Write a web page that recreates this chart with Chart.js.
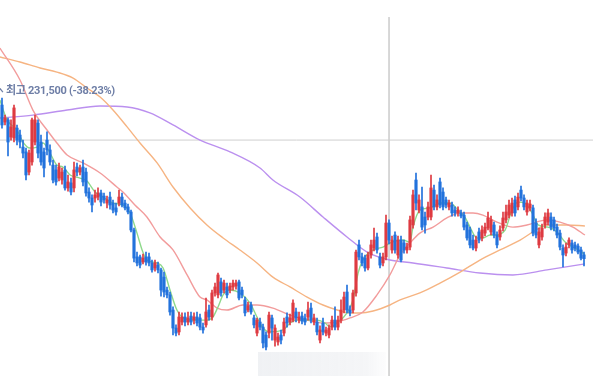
<!DOCTYPE html>
<html lang="ko">
<head>
<meta charset="utf-8">
<title>주가 차트</title>
<script src="https://cdn.jsdelivr.net/npm/chart.js@4.4.1/dist/chart.umd.min.js"></script>
<style>
    html, body { margin: 0; padding: 0; background: #ffffff; }
    #wrap { position: relative; width: 593px; height: 376px; }
</style>
</head>
<body>
<div id="wrap"><canvas id="chart"></canvas></div>
<script>
// Daily candles (won), oldest first
const openPrices = [
    222300, 213500, 214600, 205800, 205300, 210400, 206800, 200600, 198100, 187700,
    192900, 203200, 213000, 203200, 198100, 204200, 199100, 191300, 188800, 184600,
    183600, 188800, 179500, 182100, 179500, 190300, 187700, 190300, 187700, 177400,
    174300, 174300, 174800, 176900, 175300, 171700, 174800, 171700, 169200, 171700,
    174800, 171700, 169700, 167100, 157800, 143900, 143900, 141300, 143900, 143900,
    140800, 138200, 139700, 137200, 133500, 126800, 124300, 116500, 107200, 105200,
    110300, 112900, 110300, 113400, 111300, 112900, 112400, 107700, 108800, 116500,
    112900, 125300, 124300, 131000, 126800, 128400, 126800, 128400, 128900, 131000,
    126800, 121700, 116500, 119100, 112400, 104600, 110300, 107700, 103600, 104600,
    112400, 101000, 100000, 103600, 104600, 112900, 110300, 111300, 115500, 111300,
    113400, 112400, 112900, 117500, 110300, 110300, 101000, 109800, 104600, 103600,
    107700, 111300, 107700, 111300, 116500, 125800, 116500, 116500, 125300, 150100,
    143900, 143300, 138200, 144900, 148500, 154200, 143900, 140800, 143900, 161400,
    147500, 155200, 144900, 152600, 151100, 147500, 149000, 160400, 183600, 168100,
    169700, 164500, 164500, 164500, 178400, 169700, 182600, 177400, 173300, 169700,
    170700, 168100, 166600, 166600, 165500, 160400, 157800, 152600, 148500, 156800,
    153700, 156200, 158800, 156800, 160400, 155200, 154200, 158800, 163000, 165500,
    166600, 173300, 169700, 178400, 174300, 167100, 169200, 169200, 161400, 150100,
    154200, 160400, 161900, 164500, 163000, 159300, 156200, 148500, 145900, 150100,
    151100, 150100, 149500, 147500, 144900
];
const highPrices = [
    225900, 217100, 215600, 214600, 222300, 212000, 209400, 204200, 200100, 199100,
    215600, 217100, 214600, 206800, 200100, 208400, 201700, 193900, 191300, 192400,
    189800, 190800, 186200, 184600, 192900, 192400, 191300, 193900, 189800, 179500,
    175900, 178400, 179500, 178400, 176900, 175300, 177400, 173300, 171700, 178400,
    176900, 173300, 171200, 168100, 158800, 146400, 144900, 145400, 146400, 145900,
    142300, 142300, 141300, 138200, 136100, 128400, 125800, 118100, 108800, 115500,
    115000, 115000, 115500, 115500, 115000, 115500, 114400, 109800, 122700, 119100,
    126800, 130400, 135600, 133000, 132000, 130400, 130400, 132000, 132000, 132000,
    128400, 123200, 120600, 120600, 113900, 112400, 112400, 109300, 105200, 115500,
    113900, 108800, 104600, 106200, 112400, 115000, 114400, 121700, 117500, 115500,
    115500, 114400, 120600, 120100, 114400, 112400, 108300, 112400, 107700, 108800,
    113400, 118100, 113400, 121700, 125800, 129400, 118600, 126800, 147500, 152600,
    145900, 144900, 146400, 152600, 158800, 156200, 145900, 145900, 165500, 163000,
    154700, 156800, 154700, 154700, 152600, 151100, 165000, 178400, 187200, 175900,
    180000, 167100, 172200, 186200, 181000, 175900, 184600, 179500, 174800, 173300,
    172200, 169700, 169700, 168100, 167100, 161900, 159300, 155200, 154700, 158800,
    159900, 161400, 167100, 165000, 161900, 156800, 159900, 167100, 170700, 173300,
    174300, 175300, 176900, 180500, 175900, 173300, 173300, 170700, 163500, 158800,
    160900, 166600, 168600, 166600, 164500, 160900, 157800, 150100, 151100, 153700,
    152600, 151600, 150600, 149000, 146400
];
const lowPrices = [
    210400, 212000, 196000, 204200, 203200, 201700, 200100, 195000, 183600, 186200,
    191300, 201700, 195000, 191300, 185200, 196500, 191300, 182100, 181000, 183100,
    181500, 178400, 177900, 175900, 177400, 185700, 186200, 180500, 175300, 172200,
    167100, 172200, 173300, 170200, 171700, 169200, 168600, 166600, 165500, 170200,
    169700, 168100, 166100, 156800, 141300, 139200, 138200, 140300, 139700, 139200,
    136100, 136600, 135600, 123700, 123200, 122700, 113900, 103600, 103100, 103600,
    108800, 108300, 108800, 108800, 109300, 108300, 106200, 104600, 107700, 111300,
    111300, 123700, 122700, 123700, 125300, 122700, 125300, 126800, 127300, 121700,
    122700, 113400, 115500, 114400, 107200, 103100, 106200, 96900, 95900, 102100,
    101000, 97900, 98400, 99000, 103100, 107700, 108800, 110300, 110300, 109800,
    109300, 108800, 111300, 109800, 108800, 103600, 99500, 103600, 103100, 102100,
    106200, 106200, 106200, 109800, 115000, 115000, 113400, 115000, 123700, 142300,
    139200, 136600, 137200, 143300, 147000, 145900, 138200, 139200, 142300, 150600,
    145900, 145900, 143300, 141300, 145900, 145900, 147500, 158800, 168100, 166600,
    157800, 156200, 163000, 163000, 168100, 168100, 169200, 168100, 169200, 168100,
    165000, 165000, 165000, 164000, 157800, 152600, 148500, 147500, 147000, 151100,
    152100, 154700, 157800, 155200, 153700, 148500, 152600, 157300, 161400, 164000,
    165000, 165000, 168100, 172800, 168100, 165500, 167600, 154700, 153700, 148500,
    152600, 158800, 160400, 157800, 157300, 153700, 147500, 138700, 144400, 148500,
    145900, 147000, 145400, 142300, 139200
];
const closePrices = [
    212000, 215600, 203200, 211000, 220800, 204200, 203200, 197500, 186200, 197500,
    214600, 214600, 197500, 192900, 189800, 199100, 192900, 183600, 182600, 190300,
    187700, 179500, 182600, 177400, 188800, 187700, 189800, 182600, 176900, 174300,
    170700, 175900, 176900, 172200, 173300, 173300, 170700, 168100, 167100, 174800,
    170700, 169200, 167100, 157800, 143300, 140800, 139700, 143300, 141300, 140800,
    137200, 140800, 137200, 126800, 125800, 124300, 115500, 107200, 104600, 112900,
    112900, 110300, 112400, 110300, 112900, 109800, 107700, 106200, 115500, 112900,
    125300, 128400, 134600, 125300, 130400, 124300, 128900, 130400, 130400, 122700,
    124300, 115000, 118600, 115500, 108800, 111300, 107700, 99500, 97400, 113900,
    107200, 107200, 102600, 101000, 110300, 109800, 112400, 120100, 112400, 112900,
    110800, 110300, 116500, 111300, 112400, 105200, 106200, 105200, 106200, 107200,
    111300, 107700, 111300, 116500, 123200, 116500, 115000, 125300, 146400, 143900,
    140800, 138200, 144900, 150100, 152600, 147500, 139700, 143900, 161400, 152600,
    152600, 147500, 152600, 142300, 147500, 149000, 163000, 175900, 171700, 173300,
    159300, 160400, 169700, 179500, 169700, 173300, 170700, 169700, 170700, 171700,
    166600, 166600, 168100, 165000, 159300, 153700, 150100, 148500, 152600, 152600,
    157800, 159300, 164000, 163000, 155200, 150100, 157800, 164000, 167100, 170700,
    171700, 166600, 174800, 174300, 169700, 171700, 171200, 156200, 155200, 156800,
    158800, 164500, 166600, 159300, 158800, 155200, 149000, 144900, 149000, 152600,
    147500, 148500, 146400, 143300, 143000
];

// Moving averages: [day index, price]
const ma5 = [
    [-0.7, 224900], [1.7, 214600], [5, 209400], [7, 203200], [9.3, 200100], [11.7, 200600],
    [13.7, 202700], [16, 197500], [18.3, 191300], [20.3, 190300], [22.7, 186200], [26, 184600],
    [28.3, 183100], [31, 177400], [33.7, 174800], [37, 171700], [40.3, 170700], [42.7, 166600],
    [45, 156200], [46.7, 147500], [48.3, 142300], [51.7, 140800], [53.7, 138200], [56, 126800],
    [58.3, 116500], [60, 112900], [63.7, 111300], [68.3, 111300], [70.3, 112900], [72, 118100],
    [73.7, 124300], [76, 126800], [79.3, 125300], [82.7, 120100], [85, 112900], [87, 107200],
    [89.3, 105200], [93.7, 106200], [96, 109800], [98.3, 111300], [105, 111300], [107.7, 109800],
    [109.3, 107700], [111.7, 109800], [115, 115000], [117, 121700], [118.7, 135600], [120.3, 142300],
    [123.7, 147500], [127, 149000], [130, 151600], [133.7, 152600], [136, 151600], [137, 159300],
    [139.3, 168100], [142.7, 169200], [146, 171700], [149.3, 171700], [152, 168100], [154.3, 164500],
    [156, 159300], [158.3, 153700], [160.3, 153700], [162.7, 155200], [164.3, 155200], [167.7, 157800],
    [170, 168100], [172, 172200], [174.3, 171700], [176.7, 166600], [178.7, 160400], [182, 159300],
    [185, 156800], [187.7, 151600], [190.3, 149000], [193.3, 146400], [194.3, 144900]
];
const ma20 = [
    [-0.7, 251700], [6, 235200], [10.3, 219700], [15, 209400], [18.3, 202700], [21.7, 196500],
    [27, 192400], [32.7, 187200], [38.3, 180000], [40.3, 177400], [44.3, 170700], [48.3, 164500],
    [52.7, 154200], [57, 147500], [61.7, 134600], [66, 123200], [68.3, 121700], [71.7, 117500],
    [75, 116500], [80.3, 119100], [85, 119100], [90.3, 117500], [96, 113900], [101.7, 111300],
    [107, 109800], [111.7, 110300], [116, 112400], [120.3, 115500], [125, 124300], [129.3, 134600],
    [132.7, 144900], [136, 151100], [139.3, 156200], [143.7, 159300], [148.3, 164000], [152.7, 166600],
    [157, 166600], [160.3, 165500], [165, 161900], [170.3, 159300], [175, 160400], [181.7, 163000],
    [186, 161900], [190.3, 159300], [194.3, 155200]
];
const ma60 = [
    [-0.7, 247100], [6, 244500], [12.7, 241400], [18.3, 239300], [23.7, 236200], [28.3, 231100],
    [32.7, 226400], [37, 219700], [41.7, 211000], [46, 202700], [51.7, 192400], [57, 180000],
    [62.7, 169200], [68.3, 160400], [73.7, 153700], [79.3, 147500], [85, 140800], [90.3, 133500],
    [96, 128400], [101.7, 123200], [107, 119100], [111.7, 116500], [116, 115000], [119.3, 115000],
    [123.7, 116000], [129.3, 119100], [132.7, 121700], [139.3, 125300], [146, 130400], [152.7, 136100],
    [159.3, 142300], [166, 147500], [172.7, 152600], [177, 156800], [181.7, 160400], [188.3, 160400],
    [194.3, 159900]
];
const ma120 = [
    [-0.7, 215600], [10.3, 217100], [21.7, 219700], [32.7, 221800], [41.7, 221300], [49.3, 218200],
    [57, 212000], [66, 204200], [76, 198100], [86, 189800], [90.3, 183600], [99.3, 174800],
    [107, 164500], [115, 154200], [121.7, 146400], [129.3, 142300], [137, 140800], [148.3, 138200],
    [159.3, 135600], [170.3, 134600], [181.7, 137200], [194.3, 140300]
];

const periodHigh = 231500;
const highChangePct = -38.23;
const refPrice = 204200;      // gray horizontal reference line
const markerDay = 129;        // vertical marker line
const gridStep = 20000;

const RED = '#de3a41';
const BLUE = '#2272dc';

const days = closePrices.map((_, i) => i);
const candleColors = days.map(i => closePrices[i] >= openPrices[i] ? RED : BLUE);
const toPoints = arr => arr.map(p => ({ x: p[0], y: p[1] }));

function maLine(label, pts, color, order) {
    return {
        type: 'line',
        label: label,
        data: toPoints(pts),
        borderColor: color,
        borderWidth: 1.4,
        pointRadius: 0,
        cubicInterpolationMode: 'monotone',
        order: order
    };
}

// Text label and faded date box
const overlayPlugin = {
    id: 'overlay',
    beforeDatasetsDraw(chart) {
        const ctx = chart.ctx;
        ctx.save();
        const g = ctx.createLinearGradient(258, 0, 386, 0);
        g.addColorStop(0, 'rgba(238,240,243,0.9)');
        g.addColorStop(0.85, 'rgba(243,244,246,0.85)');
        g.addColorStop(1, 'rgba(250,250,251,0.5)');
        ctx.fillStyle = g;
        ctx.fillRect(258, 352, 128, 24);
        ctx.restore();
    },
    afterDatasetsDraw(chart) {
        const { ctx, scales: { x, y } } = chart;
        const px = x.getPixelForValue(1.3);
        const py = y.getPixelForValue(periodHigh) + 4;
        ctx.save();
        ctx.strokeStyle = '#6e7ea6';
        ctx.lineWidth = 1.2;
        ctx.beginPath();
        ctx.moveTo(px - 7, py - 4);
        ctx.lineTo(px - 3, py + 1);
        ctx.stroke();
        ctx.font = '700 11px Roboto, "Noto Sans CJK KR", sans-serif';
        ctx.letterSpacing = '-0.3px';
        ctx.fillStyle = '#6e7ea6';
        ctx.textBaseline = 'middle';
        ctx.fillText('최고 ' + periodHigh.toLocaleString('en-US') + ' (' + highChangePct + '%)', px, py);
        ctx.restore();
    }
};

new Chart(document.getElementById('chart'), {
    type: 'bar',
    data: {
        datasets: [
            {
                label: '몸통',
                data: days.map(i => ({ x: i, y: [openPrices[i], closePrices[i]] })),
                backgroundColor: candleColors,
                barThickness: 2.5,
                minBarLength: 1,
                grouped: false,
                order: 0
            },
            {
                label: '꼬리',
                data: days.map(i => ({ x: i, y: [lowPrices[i], highPrices[i]] })),
                backgroundColor: candleColors,
                barThickness: 1,
                grouped: false,
                order: 1
            },
            maLine('5일', ma5, '#8fd98c', 2),
            maLine('20일', ma20, '#f29c9c', 3),
            maLine('60일', ma60, '#f6b482', 4),
            maLine('120일', ma120, '#bb90ef', 5),
            {
                type: 'line',
                label: '기준가',
                data: [{ x: -1, y: refPrice }, { x: 198, y: refPrice }],
                borderColor: '#cfcfcf',
                borderWidth: 1,
                pointRadius: 0,
                order: 6
            },
            {
                type: 'line',
                label: '구분선',
                data: [{ x: markerDay, y: 267700 }, { x: markerDay, y: 82000 }],
                borderColor: '#d2d2d2',
                borderWidth: 1,
                pointRadius: 0,
                order: 7
            }
        ]
    },
    options: {
        responsive: true,
        maintainAspectRatio: false,
        animation: false,
        devicePixelRatio: 1,
        layout: { padding: 0 },
        plugins: {
            legend: { display: false },
            tooltip: { enabled: false }
        },
        scales: {
            x: {
                type: 'linear',
                display: false,
                offset: false,
                min: -0.667,
                max: 197
            },
            y: {
                type: 'linear',
                display: true,
                min: 82450,
                max: 276500,
                ticks: { display: false, stepSize: gridStep },
                afterBuildTicks: scale => {
                    scale.ticks = scale.ticks.filter(t => t.value % gridStep === 0);
                },
                border: { display: false },
                grid: { color: '#efefef', drawTicks: false }
            }
        }
    },
    plugins: [overlayPlugin]
});
</script>
</body>
</html>
